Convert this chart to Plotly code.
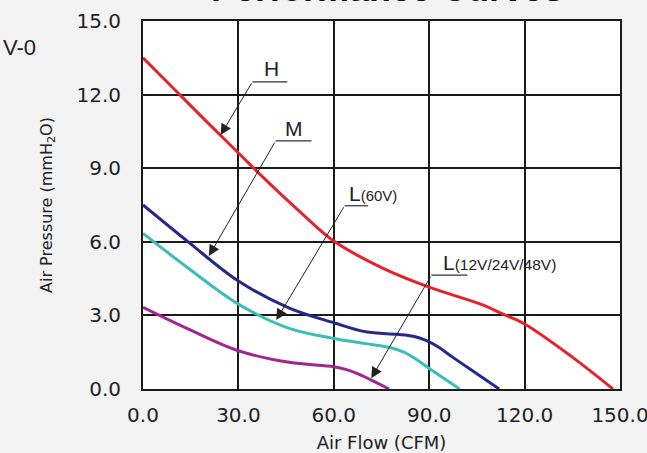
import plotly.graph_objects as go

# air flow (CFM) / air pressure (mmH2O)
flow_h = [0, 10, 20, 30, 40, 50, 60, 75, 90, 107, 113.2, 120, 135, 147.8]
pres_h = [13.5, 12.2, 10.9, 9.62, 8.35, 7.15, 6.03, 4.95, 4.15, 3.42, 3.05, 2.65, 1.3, 0.0]

flow_m = [0, 14.2, 30, 46, 60, 70, 80, 85, 89, 93, 97, 105, 112]
pres_m = [7.5, 6.0, 4.4, 3.3, 2.7, 2.33, 2.23, 2.15, 1.98, 1.7, 1.33, 0.62, 0.0]

flow_l60 = [0, 15, 30, 46, 60, 70, 78, 82, 86, 90, 99.6]
pres_l60 = [6.34, 4.85, 3.46, 2.47, 2.06, 1.85, 1.68, 1.5, 1.2, 0.84, 0.0]

flow_l12 = [0, 15, 30, 46, 60, 64, 68, 77.4]
pres_l12 = [3.33, 2.4, 1.56, 1.09, 0.91, 0.79, 0.6, 0.0]

series = [
    (flow_h, pres_h, "#e5232a"),
    (flow_m, pres_m, "#26288a"),
    (flow_l60, pres_l60, "#3bbdb8"),
    (flow_l12, pres_l12, "#a1268f"),
]

FONT = "Liberation Sans, Arial, sans-serif"
WIDE = "DejaVu Sans, sans-serif"

fig = go.Figure()
for x, y, c in series:
    fig.add_trace(go.Scatter(x=x, y=y, mode="lines",
                             line=dict(color=c, width=3, shape="spline", smoothing=1.0),
                             showlegend=False, hoverinfo="skip"))

# leader labels: (text, arrow tip, bend point, underline end, text pos)
labels = [
    ("H", (24.4, 10.35), (34.4, 12.52), (45.4, 12.52), (40.4, 13.06), "center"),
    ("M", (20.7, 5.42), (41.7, 10.11), (53.0, 10.11), (47.4, 10.63), "center"),
    ("L<span style='font-size:15px'>(60V)</span>", (41.9, 2.81), (63.4, 7.47), (70.8, 7.47), (64.0, 7.95), "left"),
    ("L<span style='font-size:15.5px'>(12V/24V/48V)</span>", (71.8, 0.44), (90.7, 4.64), (102.0, 4.64), (93.8, 5.17), "left"),
]
for txt, tip, bend, end, pos, anc in labels:
    fig.add_annotation(x=tip[0], y=tip[1], ax=bend[0], ay=bend[1], axref="x", ayref="y",
                       xref="x", yref="y", text="", showarrow=True,
                       arrowhead=2, arrowsize=2.2, arrowwidth=1, arrowcolor="#222")
    fig.add_shape(type="line", x0=bend[0], y0=bend[1], x1=end[0], y1=end[1],
                  line=dict(color="#333", width=1.2))
    fig.add_annotation(x=pos[0], y=pos[1], text=txt, showarrow=False, xanchor=anc,
                       font=dict(family=FONT, size=21, color="#222"))

# cut-off title and side text
fig.add_annotation(x=0.5, y=1.027, xref="paper", yref="paper", text="<b>Performance Curves</b>",
                   showarrow=False, yanchor="bottom", xshift=5,
                   font=dict(family=FONT, size=36, color="#111"))
fig.add_annotation(x=-0.298, y=0.929, xref="paper", yref="paper", text="V-0", showarrow=False,
                   xanchor="left", yanchor="middle", font=dict(family=FONT, size=22, color="#222"))

fig.update_xaxes(range=[0, 150], dtick=30, tickformat=".1f", showgrid=True, automargin=False,
                 gridcolor="#1a1a1a", gridwidth=1.5, zeroline=False,
                 showline=True, linecolor="#1a1a1a", linewidth=2, mirror=True,
                 ticks="", ticklabelstandoff=7, ticklabeloverflow="allow",
                 tickfont=dict(family=WIDE, size=20, color="#222"),
                 title=dict(text="Air Flow (CFM)", standoff=15,
                            font=dict(family=WIDE, size=18, color="#222")))
fig.update_yaxes(range=[0, 15], dtick=3, tickformat=".1f", showgrid=True, automargin=False,
                 gridcolor="#1a1a1a", gridwidth=1.5, zeroline=False,
                 showline=True, linecolor="#1a1a1a", linewidth=2, mirror=True,
                 ticks="", ticklabelstandoff=16, ticklabeloverflow="allow",
                 tickfont=dict(family=WIDE, size=20, color="#222"),
                 title=dict(text="Air Pressure (mmH<sub>2</sub>O)", standoff=20,
                            font=dict(family=WIDE, size=16, color="#222")))

fig.update_layout(width=647, height=453, margin=dict(l=143, r=27, t=21, b=64),
                  paper_bgcolor="#f3f3f3", plot_bgcolor="#ffffff")

# drop the page's default body margin so the figure fills the window
fig.write_html("out.html", config={"displayModeBar": False},
               post_script="document.body.style.margin='0';")
